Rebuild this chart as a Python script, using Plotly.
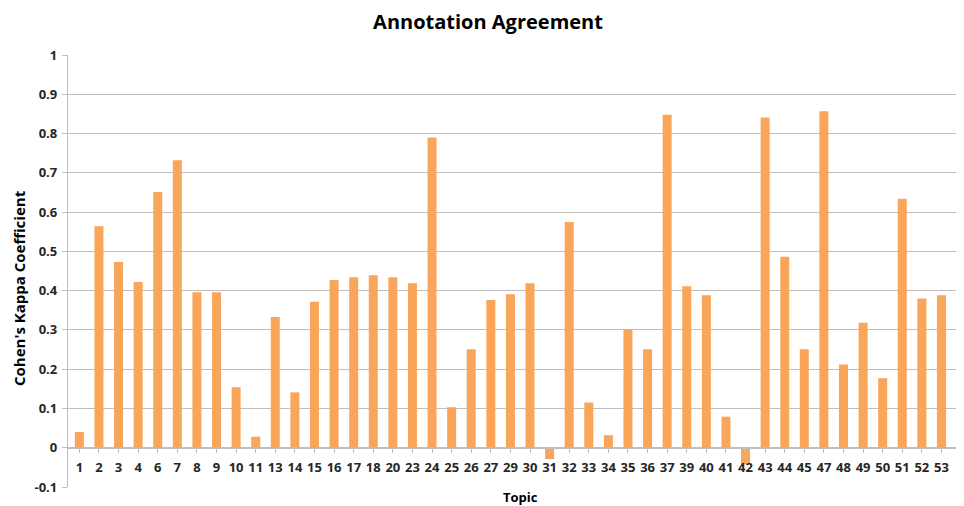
import plotly.graph_objects as go

topics = ["1", "2", "3", "4", "6", "7", "8", "9", "10", "11", "13", "14", "15", "16",
          "17", "18", "20", "23", "24", "25", "26", "27", "29", "30", "31", "32", "33",
          "34", "35", "36", "37", "39", "40", "41", "42", "43", "44", "45", "47", "48",
          "49", "50", "51", "52", "53", "55"]
kappa = [0.040, 0.564, 0.473, 0.422, 0.651, 0.732, 0.396, 0.396, 0.154, 0.028,
         0.333, 0.141, 0.372, 0.427, 0.434, 0.439, 0.434, 0.419, 0.790, 0.103,
         0.251, 0.376, 0.391, 0.419, -0.029, 0.575, 0.115, 0.032, 0.301, 0.251,
         0.848, 0.411, 0.388, 0.079, -0.042, 0.841, 0.486, 0.251, 0.857, 0.212,
         0.318, 0.177, 0.634, 0.380, 0.388, 0.227]
y_ticks = [-0.1, 0, 0.1, 0.2, 0.3, 0.4, 0.5, 0.6, 0.7, 0.8, 0.9, 1]
y_tick_text = ["-0.1", "0", "0.1", "0.2", "0.3", "0.4", "0.5", "0.6", "0.7", "0.8", "0.9", "1"]

FONT = "Open Sans"
TXT = "#262626"
GRID = "#BFBFBF"

fig = go.Figure(go.Bar(
    x=list(range(len(topics))), y=kappa,
    marker=dict(color="#F9A65A", line=dict(width=0)),
    width=0.46,
))

ymin, ymax = -0.1, 1.0
# page body adds an 8px offset, so the figure is drawn 8px smaller than the window
W, H = 956, 498
fig.update_layout(
    width=W, height=H,
    margin=dict(l=60, r=0, t=47, b=19),
    paper_bgcolor="white", plot_bgcolor="white",
    showlegend=False,
    title=dict(text="<b>Annotation Agreement</b>", x=(488 - 8) / W, xref="container",
               xanchor="center", y=1 - (22 - 8) / H, yref="container", yanchor="middle",
               font=dict(family=FONT, size=20, color="black")),
    xaxis=dict(
        tickmode="array", tickvals=list(range(len(topics))), ticktext=topics,
        range=[-0.58, 45.15],
        anchor="free", position=(0 - ymin) / (ymax - ymin),
        showline=True, linecolor=GRID, linewidth=1.3,
        showgrid=False, zeroline=False,
        ticks="outside", ticklen=4, tickcolor=GRID,
        ticklabelstandoff=4,
        tickfont=dict(family=FONT, size=13, color=TXT, weight="bold"),
        automargin=False,
    ),
    yaxis=dict(
        range=[ymin, ymax], tickmode="array", tickvals=y_ticks, ticktext=y_tick_text,
        showgrid=True, gridcolor=GRID, gridwidth=1.3,
        zeroline=False,
        showline=True, linecolor=GRID, linewidth=1.3,
        ticks="outside", ticklen=5, tickcolor=GRID,
        ticklabelstandoff=2,
        tickfont=dict(family=FONT, size=13, color=TXT, weight="bold"),
        automargin=False,
    ),
    annotations=[
        dict(text="Cohen's Kappa Coefficient", textangle=-90,
             xref="paper", x=(19 - 68) / (964 - 68), xanchor="center",
             yref="paper", y=(479 - 280) / 432, yanchor="middle",
             showarrow=False,
             font=dict(family=FONT, size=15, color="black", weight="bold")),
        dict(text="Topic",
             xref="paper", x=(520 - 68) / (964 - 68), xanchor="center",
             yref="paper", y=-(497 - 8 - 479) / 432, yanchor="middle",
             showarrow=False,
             font=dict(family=FONT, size=13, color="black", weight="bold")),
    ],
)

fig.write_html("out.html")
